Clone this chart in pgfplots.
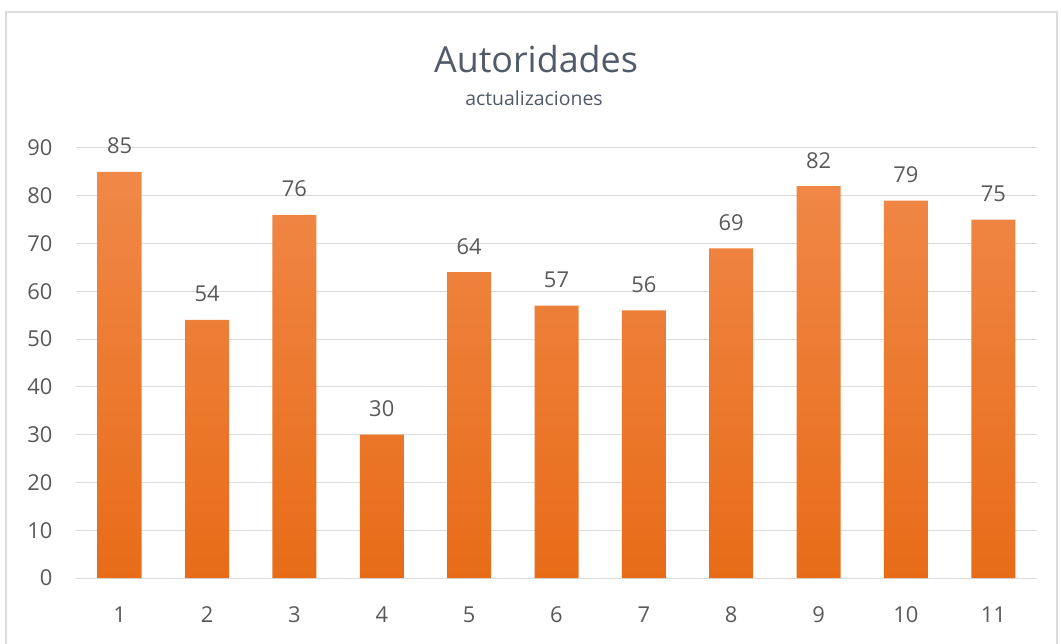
\documentclass[border=0pt]{standalone}
\usepackage{pgfplots}
\pgfplotsset{compat=1.18}
\usepackage{fontspec}
\setmainfont{Open Sans}
\definecolor{txt}{HTML}{595959}
\definecolor{ttl}{HTML}{505A68}
\definecolor{gridc}{HTML}{DCDCDC}
\definecolor{bartop}{RGB}{240,136,72}
\definecolor{barbot}{RGB}{232,108,24}

\begin{document}
\begin{tikzpicture}
\useasboundingbox (0,0) rectangle (1061bp,644bp);
\draw[gridc, line width=1.2bp] (6bp,-10bp) rectangle (1057bp,632bp);
\node[anchor=base, text=ttl, font=\fontsize{36}{40}\selectfont] at (536bp,571bp) {Autoridades};
\node[anchor=base, text=ttl, font=\fontsize{19.5}{22}\selectfont] at (534bp,538bp) {actualizaciones};
\begin{axis}[
  at={(76bp,66bp)}, anchor=south west,
  scale only axis, width=961bp, height=430bp,
  ybar, bar width=44bp,
  xmin=0.5, xmax=11.5, ymin=0, ymax=90,
  xtick={1,...,11}, ytick={0,10,...,90},
  axis line style={draw=none},
  major tick length=0pt,
  ymajorgrids, grid style={gridc, line width=1bp},
  /pgf/number format/assume math mode=true,
  tick label style={text=txt, font=\fontsize{22}{24}\selectfont},
  yticklabel style={anchor=east, xshift=-20bp},
  xticklabel style={anchor=north, yshift=-25bp},
  clip=false,
  nodes near coords,
  every node near coord/.append style={text=txt, font=\fontsize{22}{24}\selectfont,
    anchor=base, inner sep=0pt, yshift=18bp},
]
\addplot[draw=none, top color=bartop, bottom color=barbot] coordinates {
  (1,85) (2,54) (3,76) (4,30) (5,64) (6,57) (7,56) (8,69) (9,82) (10,79) (11,75)};
\end{axis}
\end{tikzpicture}
\end{document}
